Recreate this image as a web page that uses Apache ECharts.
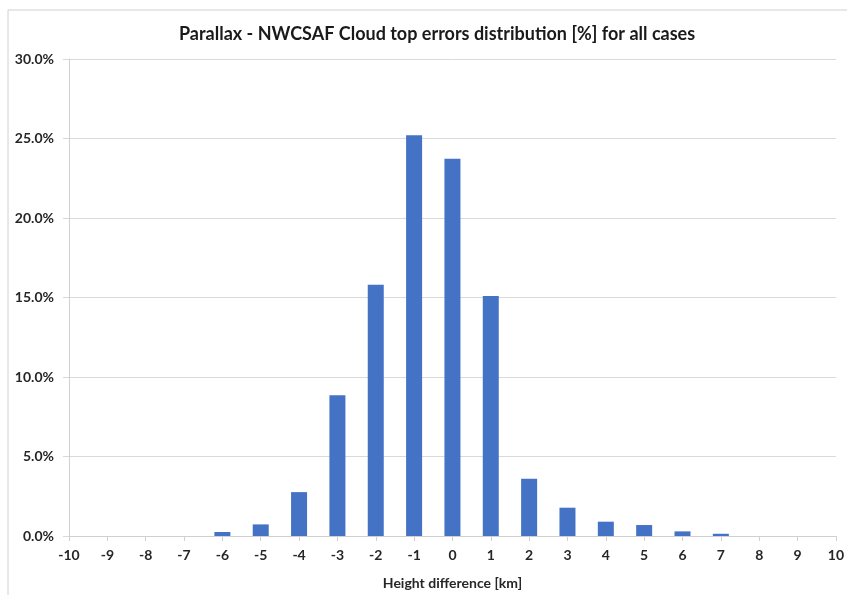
<!DOCTYPE html>
<html>
<head>
<meta charset="utf-8">
<script src="https://cdn.jsdelivr.net/npm/echarts@6/dist/echarts.min.js"></script>
<style>
	html, body { margin: 0; padding: 0; background: #fff; }
	#chart { width: 847px; height: 595px; }
</style>
</head>
<body>
<div id="chart"></div>
<script>
	// height difference [km] and share of cases [%]
	var heightDiff = [-10, -9, -8, -7, -6, -5, -4, -3, -2, -1, 0, 1, 2, 3, 4, 5, 6, 7, 8, 9, 10];
	var errorShare = [0, 0, 0, 0, 0.25, 0.73, 2.76, 8.85, 15.8, 25.2, 23.72, 15.1, 3.6, 1.78, 0.9, 0.69, 0.29, 0.14, 0, 0, 0];
	var yTicks = [0, 5, 10, 15, 20, 25, 30];

	var chart = echarts.init(document.getElementById('chart'));
	var font = 'Lato, "Open Sans", sans-serif';

	chart.setOption({
		animation: false,
		graphic: [{
			type: 'rect',
			shape: { x: 8, y: 10, width: 860, height: 600 },
			style: { fill: 'none', stroke: '#d0d0d0', lineWidth: 1 },
			silent: true
		}],
		title: {
			text: 'Parallax - NWCSAF Cloud top errors distribution [%] for all cases',
			left: 174,
			top: 20,
			textStyle: { fontFamily: font, fontSize: 18, fontWeight: 'bold', color: '#1a1a1a' }
		},
		grid: { left: 69, right: 9, top: 59, bottom: 58 },
		xAxis: {
			type: 'value',
			min: heightDiff[0],
			max: heightDiff[heightDiff.length - 1],
			interval: 1,
			name: 'Height difference [km]',
			nameLocation: 'middle',
			nameGap: 40,
			nameTextStyle: { fontFamily: font, fontSize: 14, fontWeight: 'bold', color: '#262626' },
			axisLine: { show: true, onZero: false, lineStyle: { color: '#d0d0d0' } },
			axisTick: { show: true, length: 5, lineStyle: { color: '#d0d0d0' } },
			axisLabel: { margin: 12, fontFamily: font, fontSize: 14, fontWeight: 'bold', color: '#262626' },
			splitLine: { show: false }
		},
		yAxis: {
			type: 'value',
			min: yTicks[0],
			max: yTicks[yTicks.length - 1],
			interval: 5,
			axisLine: { show: true, onZero: false, lineStyle: { color: '#d0d0d0' } },
			axisTick: { show: true, length: 6, lineStyle: { color: '#d9d9d9' } },
			axisLabel: {
				margin: 15,
				fontFamily: font, fontSize: 14, fontWeight: 'bold', color: '#262626',
				formatter: function (v) { return v.toFixed(1) + '%'; }
			},
			splitLine: { lineStyle: { color: '#d9d9d9' } }
		},
		series: [{
			type: 'bar',
			barWidth: 16,
			data: heightDiff.map(function (x, i) { return [x, errorShare[i]]; }),
			itemStyle: { color: '#4472C4' }
		}]
	});
</script>
</body>
</html>
